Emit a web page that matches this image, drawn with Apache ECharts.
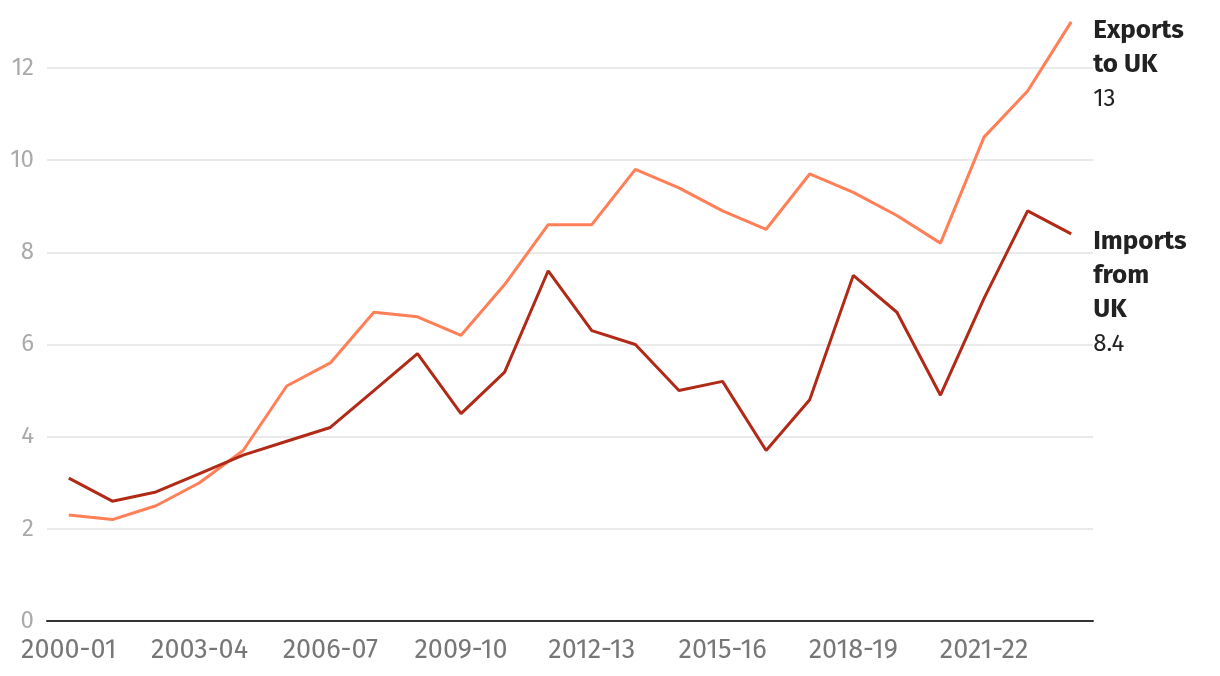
<!DOCTYPE html>
<html>
<head>
<meta charset="utf-8">
<script src="https://cdn.jsdelivr.net/npm/echarts@6/dist/echarts.min.js"></script>
<style>html,body{margin:0;padding:0;background:#fff}#c{width:1220px;height:676px}</style>
</head>
<body>
<div id="c"></div>
<script>
const categories = ['2000-01','2001-02','2002-03','2003-04','2004-05','2005-06','2006-07','2007-08','2008-09','2009-10','2010-11','2011-12','2012-13','2013-14','2014-15','2015-16','2016-17','2017-18','2018-19','2019-20','2020-21','2021-22','2022-23','2023-24'];
const exportsToUK = [2.3,2.2,2.5,3.0,3.7,5.1,5.6,6.7,6.6,6.2,7.3,8.6,8.6,9.8,9.4,8.9,8.5,9.7,9.3,8.8,8.2,10.5,11.5,13.0];
const importsFromUK = [3.1,2.6,2.8,3.2,3.6,3.9,4.2,5.0,5.8,4.5,5.4,7.6,6.3,6.0,5.0,5.2,3.7,4.8,7.5,6.7,4.9,7.0,8.9,8.4];
const yTicks = [0,2,4,6,8,10,12];

const FONT = '"Fira Sans","Open Sans","Noto Sans",sans-serif';
const chart = echarts.init(document.getElementById('c'));
chart.setOption({
  animation: false,
  textStyle: { fontFamily: FONT },
  grid: { left: 47, right: 127, top: 68, bottom: 55, containLabel: false },
  xAxis: {
    type: 'category',
    data: categories,
    boundaryGap: true,
    axisLine: { lineStyle: { color: '#333', width: 2 } },
    axisTick: { show: false },
    axisLabel: { interval: 2, color: '#777', fontSize: 27, margin: 16, fontFamily: FONT }
  },
  yAxis: {
    type: 'value',
    min: yTicks[0], max: yTicks[yTicks.length - 1], interval: 2,
    axisLine: { show: false },
    axisTick: { show: false },
    splitLine: { lineStyle: { color: '#e3e3e3', width: 1.5 } },
    axisLabel: { color: '#aaa', fontSize: 24, margin: 13, fontFamily: FONT }
  },
  series: [
    {
      name: 'Exports to UK', type: 'line', data: exportsToUK, clip: false,
      symbol: 'none', lineStyle: { color: '#ff7f57', width: 3 }, itemStyle: { color: '#ff7f57' },
      endLabel: {
        show: true, distance: 22, offset: [0, 43],
        formatter: p => '{b|Exports}\n{b|to UK}\n{v|' + p.value + '}',
        rich: {
          b: { fontSize: 26, fontWeight: 'bold', color: '#222', lineHeight: 34, fontFamily: FONT },
          v: { fontSize: 24, color: '#222', lineHeight: 34, fontFamily: FONT }
        }
      }
    },
    {
      name: 'Imports from UK', type: 'line', data: importsFromUK, clip: false,
      symbol: 'none', lineStyle: { color: '#b02a17', width: 3 }, itemStyle: { color: '#b02a17' },
      endLabel: {
        show: true, distance: 22, offset: [0, 59],
        formatter: p => '{b|Imports}\n{b|from}\n{b|UK}\n{v|' + p.value + '}',
        rich: {
          b: { fontSize: 26, fontWeight: 'bold', color: '#222', lineHeight: 34, fontFamily: FONT },
          v: { fontSize: 24, color: '#222', lineHeight: 34, fontFamily: FONT }
        }
      }
    }
  ]
});
</script>
</body>
</html>
